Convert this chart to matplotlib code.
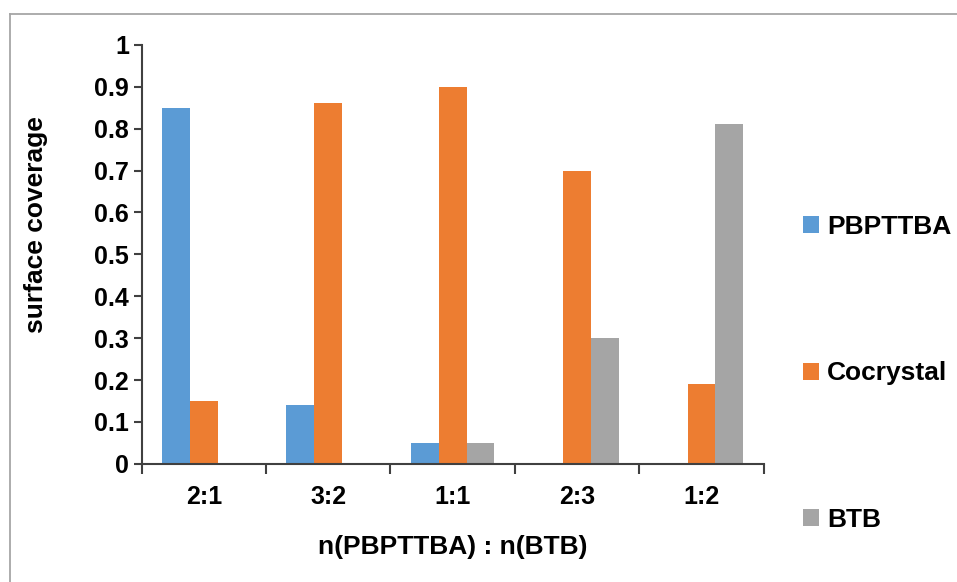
import numpy as np
import matplotlib
matplotlib.use("Agg")
import matplotlib.pyplot as plt
from matplotlib.lines import Line2D

plt.rcParams['font.family'] = ['Liberation Sans', 'DejaVu Sans']
plt.rcParams['font.weight'] = 'bold'

ratios = ['2:1', '3:2', '1:1', '2:3', '1:2']
series = ['PBPTTBA', 'Cocrystal', 'BTB']
pbpttba = [0.85, 0.14, 0.05, 0.0, 0.0]
cocrystal = [0.15, 0.86, 0.90, 0.70, 0.19]
btb = [0.0, 0.0, 0.05, 0.30, 0.81]
colors = ['#5B9BD5', '#ED7D31', '#A5A5A5']

fig = plt.figure(figsize=(9.57, 5.82), dpi=100)
ax = fig.add_axes([0.148, 0.203, 0.650, 0.720])

# chart frame: only the top and left edges fall inside the image
fx, fy = 9.5 / 957, 1 - 13.5 / 582
fig.lines.append(Line2D([fx, 1], [fy, fy], transform=fig.transFigure,
                        color='#A6A6A6', linewidth=1.3))
fig.lines.append(Line2D([fx, fx], [0, fy], transform=fig.transFigure,
                        color='#A6A6A6', linewidth=1.3))

x = np.arange(len(ratios))
w = 0.224
for i, (vals, name) in enumerate(zip([pbpttba, cocrystal, btb], series)):
    ax.bar(x + (i - 1) * w, vals, width=w, color=colors[i], label=name, zorder=2)

ax.set_xlim(-0.5, len(ratios) - 0.5)
ax.set_ylim(0, 1)
ax.set_yticks(np.arange(0, 1.01, 0.1))
ax.set_yticklabels(['0'] + [f'{v:.1f}' for v in np.arange(0.1, 0.95, 0.1)] + ['1'])

# category labels centred, tick marks on the boundaries
ax.set_xticks(x)
ax.set_xticklabels(ratios)
ax.set_xticks(np.arange(-0.5, len(ratios)), minor=True)
ax.tick_params(axis='x', which='major', length=0, pad=15, labelsize=18)
ax.tick_params(axis='x', which='minor', length=7, width=1.5, color='#404040')
ax.tick_params(axis='y', length=6, width=1.5, color='#404040', labelsize=18, pad=3)

for s in ['top', 'right']:
    ax.spines[s].set_visible(False)
for s in ['left', 'bottom']:
    ax.spines[s].set_color('#404040')
    ax.spines[s].set_linewidth(1.5)

ax.set_xlabel('n(PBPTTBA) : n(BTB)', fontsize=19, fontweight='bold', labelpad=19)
ax.set_ylabel('surface coverage', fontsize=19, fontweight='bold')
ax.yaxis.set_label_coords(-0.151, 0.57)

fig.legend(loc='upper left', bbox_to_anchor=(0.839, 0.631), frameon=False,
           fontsize=19, labelspacing=4.65, handlelength=0.62, handleheight=0.62,
           handletextpad=0.3, borderaxespad=0, borderpad=0)

fig.savefig('out.png', dpi=100)
